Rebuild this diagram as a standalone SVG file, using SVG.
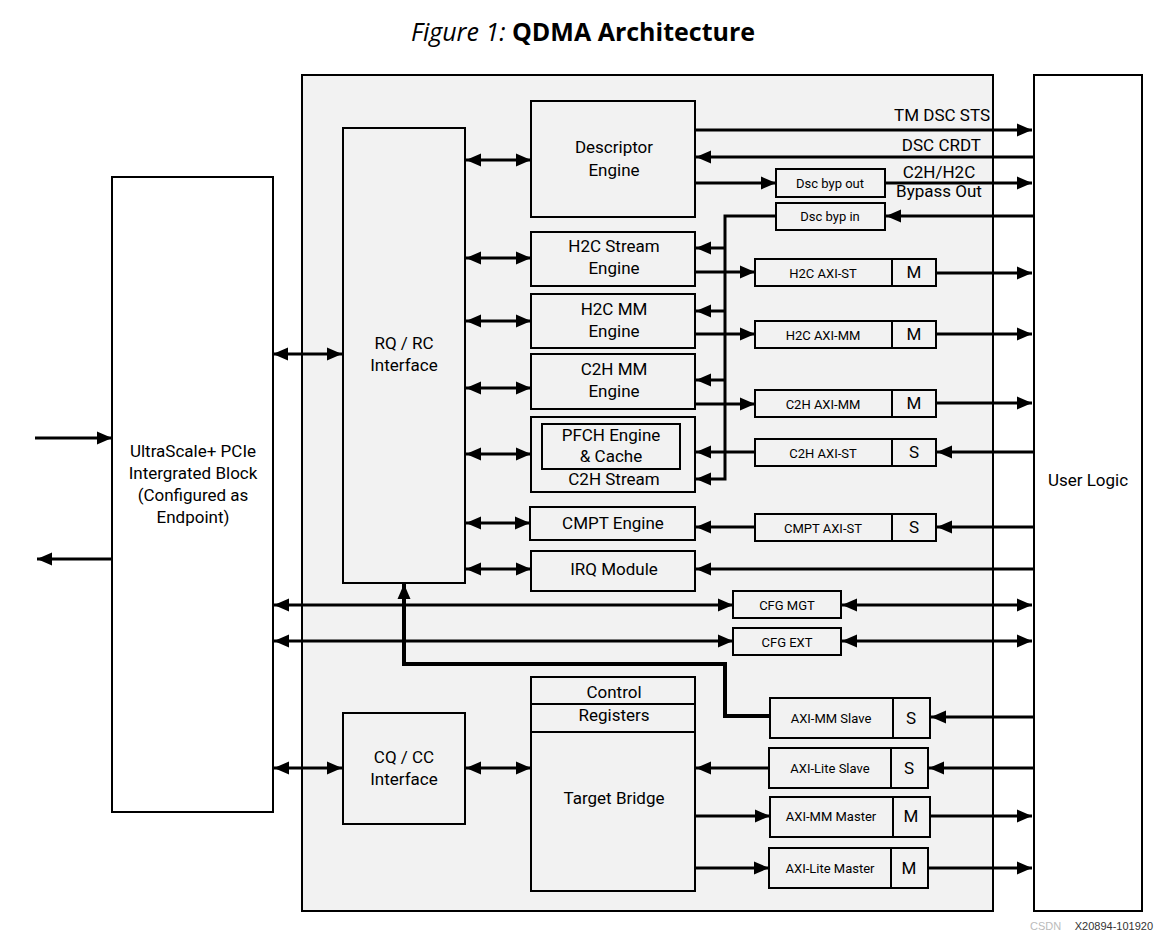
<svg xmlns="http://www.w3.org/2000/svg" width="1160" height="943" viewBox="0 0 1160 943">
<style>
.box{fill:#f2f2f2;stroke:#000;stroke-width:2}
.wbox{fill:#fff;stroke:#000;stroke-width:2}
.t{font-family:Roboto,"Liberation Sans",sans-serif;fill:#000;text-anchor:middle;dominant-baseline:central}
.l{font-size:17px}
.s{font-size:13px}
.c path{fill:none;stroke:#000;stroke-width:3}
.c .one{marker-end:url(#ah)}
.c .two{marker-end:url(#ah);marker-start:url(#ah)}
</style>
<defs>
<marker id="ah" markerUnits="userSpaceOnUse" markerWidth="16" markerHeight="14" refX="15" refY="6.5" orient="auto-start-reverse" viewBox="0 0 16 13">
<path d="M0,0 L15,6.5 L0,13 z" fill="#000"/>
</marker>
</defs>
<rect width="1160" height="943" fill="#fff"/>
<text x="583" y="31" text-anchor="middle" dominant-baseline="central" font-family="'Open Sans','Noto Sans',sans-serif" font-size="25"><tspan font-style="italic">Figure 1:</tspan><tspan font-weight="bold"> QDMA Architecture</tspan></text>

<g id="qdma"><rect class="box" x="302" y="75" width="691" height="836"/></g>
<g id="user-logic"><rect class="wbox" x="1034" y="75" width="108" height="836"/><text class="t l" x="1088" y="480">User Logic</text></g>
<g id="pcie"><rect class="wbox" x="112" y="177" width="161" height="635"/>
<text class="t l" x="193" y="451">UltraScale+ PCIe</text><text class="t l" x="193" y="473">Intergrated Block</text><text class="t l" x="193" y="495">(Configured as</text><text class="t l" x="193" y="517">Endpoint)</text></g>
<g id="rqrc"><rect class="box" x="343" y="128" width="122" height="455"/><text class="t l" x="404" y="343">RQ / RC</text><text class="t l" x="404" y="365">Interface</text></g>
<g id="desc"><rect class="box" x="531" y="101" width="164" height="116"/><text class="t l" x="614" y="147">Descriptor</text><text class="t l" x="614" y="170">Engine</text></g>
<g id="h2cst"><rect class="box" x="531" y="232" width="164" height="54"/><text class="t l" x="614" y="246">H2C Stream</text><text class="t l" x="614" y="268">Engine</text></g>
<g id="h2cmm"><rect class="box" x="531" y="294" width="164" height="54"/><text class="t l" x="614" y="309">H2C MM</text><text class="t l" x="614" y="331">Engine</text></g>
<g id="c2hmm"><rect class="box" x="531" y="354" width="164" height="55"/><text class="t l" x="614" y="369">C2H MM</text><text class="t l" x="614" y="391">Engine</text></g>
<g id="c2hst"><rect class="box" x="531" y="417" width="164" height="75"/><rect class="box" x="542" y="424" width="138" height="45"/><text class="t l" x="611" y="435">PFCH Engine</text><text class="t l" x="611" y="456">&amp; Cache</text><text class="t l" x="614" y="479">C2H Stream</text></g>
<g id="cmpt"><rect class="box" x="530" y="507" width="165" height="33"/><text class="t l" x="613" y="523">CMPT Engine</text></g>
<g id="irq"><rect class="box" x="531" y="551" width="164" height="40"/><text class="t l" x="614" y="569">IRQ Module</text></g>
<g id="cqcc"><rect class="box" x="343" y="713" width="122" height="111"/><text class="t l" x="404" y="757">CQ / CC</text><text class="t l" x="404" y="779">Interface</text></g>
<g id="target"><rect class="box" x="531" y="677" width="164" height="214"/><line x1="531" y1="704" x2="695" y2="704" stroke="#000" stroke-width="2"/><line x1="531" y1="732" x2="695" y2="732" stroke="#000" stroke-width="2"/><text class="t l" x="614" y="692">Control</text><text class="t l" x="614" y="715">Registers</text><text class="t l" x="614" y="798">Target Bridge</text></g>
<g id="dscout"><rect class="box" x="776" y="169" width="109" height="28"/><text class="t s" x="830" y="183">Dsc byp out</text></g>
<g id="dscin"><rect class="box" x="776" y="203" width="109" height="27"/><text class="t s" x="830" y="216">Dsc byp in</text></g>
<g id="h2caxist"><rect class="box" x="755" y="259" width="181" height="27"/><line x1="892" y1="259" x2="892" y2="286" stroke="#000" stroke-width="2"/><text class="t s" x="823" y="273">H2C AXI-ST</text><text class="t l" x="914" y="272">M</text></g>
<g id="h2caximm"><rect class="box" x="755" y="321" width="181" height="27"/><line x1="892" y1="321" x2="892" y2="348" stroke="#000" stroke-width="2"/><text class="t s" x="823" y="335">H2C AXI-MM</text><text class="t l" x="914" y="334">M</text></g>
<g id="c2haximm"><rect class="box" x="755" y="390" width="181" height="27"/><line x1="892" y1="390" x2="892" y2="417" stroke="#000" stroke-width="2"/><text class="t s" x="823" y="404">C2H AXI-MM</text><text class="t l" x="914" y="403">M</text></g>
<g id="c2haxist"><rect class="box" x="755" y="439" width="181" height="27"/><line x1="892" y1="439" x2="892" y2="466" stroke="#000" stroke-width="2"/><text class="t s" x="823" y="453">C2H AXI-ST</text><text class="t l" x="914" y="452">S</text></g>
<g id="cmptaxist"><rect class="box" x="755" y="514" width="181" height="27"/><line x1="892" y1="514" x2="892" y2="541" stroke="#000" stroke-width="2"/><text class="t s" x="823" y="528">CMPT AXI-ST</text><text class="t l" x="914" y="527">S</text></g>
<g id="cfgmgt"><rect class="box" x="733" y="591" width="108" height="27"/><text class="t s" x="787" y="605">CFG MGT</text></g>
<g id="cfgext"><rect class="box" x="733" y="628" width="108" height="27"/><text class="t s" x="787" y="642">CFG EXT</text></g>
<g id="aximmslave"><rect class="box" x="770" y="698" width="160" height="40"/><line x1="893" y1="698" x2="893" y2="738" stroke="#000" stroke-width="2"/><text class="t s" x="831" y="718">AXI-MM Slave</text><text class="t l" x="911" y="718">S</text></g>
<g id="axiliteslave"><rect class="box" x="769" y="748" width="159" height="40"/><line x1="891" y1="748" x2="891" y2="788" stroke="#000" stroke-width="2"/><text class="t s" x="830" y="768">AXI-Lite Slave</text><text class="t l" x="909" y="768">S</text></g>
<g id="aximmmaster"><rect class="box" x="770" y="797" width="160" height="40"/><line x1="893" y1="797" x2="893" y2="837" stroke="#000" stroke-width="2"/><text class="t s" x="831" y="816">AXI-MM Master</text><text class="t l" x="911" y="816">M</text></g>
<g id="axilitemaster"><rect class="box" x="769" y="848" width="159" height="40"/><line x1="891" y1="848" x2="891" y2="888" stroke="#000" stroke-width="2"/><text class="t s" x="830" y="868">AXI-Lite Master</text><text class="t l" x="909" y="868">M</text></g>

<g id="labels">
<text class="t l" x="990" y="115" style="text-anchor:end">TM DSC STS</text>
<text class="t l" x="981" y="145" style="text-anchor:end">DSC CRDT</text>
<text class="t l" x="939" y="172">C2H/H2C</text>
<text class="t l" x="939" y="191">Bypass Out</text>
</g>

<g id="connectors" class="c">
<path class="one" d="M35,438 H112"/>
<path class="one" d="M112,559 H37"/>
<path class="two" d="M273,354 H342"/>
<path class="two" d="M466,160 H531"/>
<path class="two" d="M466,258 H531"/>
<path class="two" d="M466,321 H531"/>
<path class="two" d="M466,388 H531"/>
<path class="two" d="M466,454 H531"/>
<path class="two" d="M466,523 H530"/>
<path class="two" d="M466,569 H531"/>
<path class="one" d="M695,130 H1032"/>
<path class="one" d="M1034,157 H696"/>
<path class="one" d="M695,183 H776"/>
<path class="one" d="M885,183 H1032"/>
<path class="one" d="M1034,216 H886"/>
<path class="one" d="M776,216 H725 V479 H696"/>
<path class="one" d="M725,248 H696"/>
<path class="one" d="M725,311 H696"/>
<path class="one" d="M725,380 H696"/>
<path class="one" d="M695,272 H755"/>
<path class="one" d="M695,334 H755"/>
<path class="one" d="M695,404 H755"/>
<path class="one" d="M936,273 H1032"/>
<path class="one" d="M936,334 H1032"/>
<path class="one" d="M936,403 H1032"/>
<path class="one" d="M1034,452 H937"/>
<path class="one" d="M755,452 H696"/>
<path class="one" d="M1034,527 H937"/>
<path class="one" d="M755,527 H696"/>
<path class="one" d="M1034,569 H696"/>
<path class="two" d="M274,605 H733"/>
<path class="two" d="M842,605 H1032"/>
<path class="two" d="M274,641 H733"/>
<path class="two" d="M842,641 H1032"/>
<path class="one" d="M770,716 H725 V664 H404 V584" style="stroke-width:4"/>
<path class="one" d="M1034,717 H931"/>
<path class="one" d="M1034,768 H929"/>
<path class="one" d="M769,768 H696"/>
<path class="one" d="M695,816 H770"/>
<path class="one" d="M930,816 H1032"/>
<path class="one" d="M695,868 H769"/>
<path class="one" d="M928,868 H1032"/>
<path class="two" d="M274,768 H342"/>
<path class="two" d="M466,768 H531"/>
</g>
<text x="1030" y="930" font-family="'Liberation Sans',sans-serif" font-size="11" fill="#bbb">CSDN</text>
<text x="1153" y="930" text-anchor="end" font-family="'Liberation Sans',sans-serif" font-size="11" fill="#333">X20894-101920</text>
</svg>
